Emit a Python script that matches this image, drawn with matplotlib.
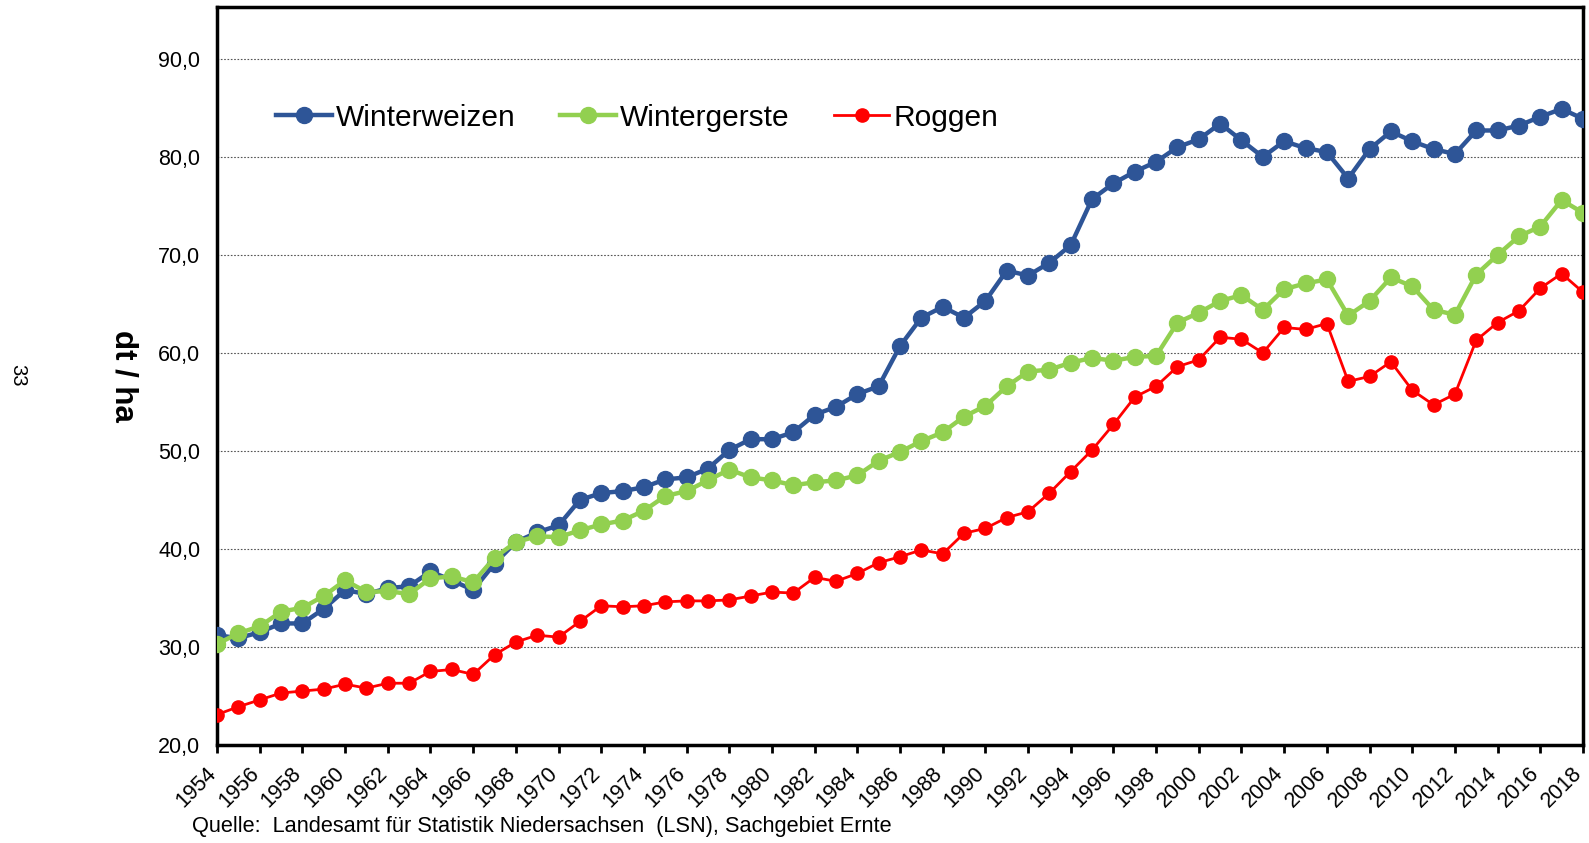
import matplotlib
matplotlib.use("Agg")
import matplotlib.pyplot as plt

plt.rcParams['font.family'] = ['Liberation Sans', 'DejaVu Sans']

years = list(range(1954, 2019))

# Ertrag dt/ha
winterweizen = [31.2, 30.9, 31.5, 32.4, 32.4, 33.9, 35.8, 35.4, 36.0, 36.2,
                37.7, 36.8, 35.8, 38.5, 40.7, 41.7, 42.4, 45.0, 45.7, 45.9,
                46.3, 47.1, 47.3, 48.2, 50.1, 51.2, 51.2, 51.9, 53.7, 54.5,
                55.8, 56.6, 60.7, 63.6, 64.7, 63.6, 65.3, 68.4, 67.9, 69.2,
                71.0, 75.7, 77.3, 78.5, 79.5, 81.0, 81.8, 83.4, 81.7, 80.0,
                81.6, 80.9, 80.5, 77.8, 80.8, 82.6, 81.6, 80.8, 80.3, 82.7,
                82.7, 83.2, 84.1, 84.9, 83.9]
wintergerste = [30.3, 31.4, 32.1, 33.6, 34.0, 35.2, 36.8, 35.6, 35.7, 35.4,
                37.0, 37.2, 36.6, 39.1, 40.7, 41.3, 41.2, 41.9, 42.5, 42.9,
                43.9, 45.4, 45.9, 47.0, 48.1, 47.3, 47.0, 46.5, 46.8, 47.0,
                47.5, 49.0, 49.9, 51.0, 51.9, 53.5, 54.6, 56.6, 58.1, 58.3,
                59.0, 59.5, 59.2, 59.6, 59.7, 63.1, 64.1, 65.3, 65.9, 64.4,
                66.5, 67.1, 67.5, 63.8, 65.3, 67.7, 66.8, 64.4, 63.9, 68.0,
                70.0, 71.9, 72.9, 75.6, 74.3]
roggen = [23.1, 23.9, 24.6, 25.3, 25.5, 25.7, 26.2, 25.8, 26.3, 26.3,
          27.5, 27.7, 27.2, 29.2, 30.5, 31.2, 31.0, 32.6, 34.2, 34.1,
          34.2, 34.6, 34.7, 34.7, 34.8, 35.2, 35.6, 35.5, 37.1, 36.7,
          37.5, 38.6, 39.2, 39.9, 39.5, 41.6, 42.1, 43.2, 43.8, 45.7,
          47.9, 50.1, 52.7, 55.5, 56.6, 58.6, 59.3, 61.6, 61.4, 60.0,
          62.6, 62.4, 63.0, 57.1, 57.6, 59.1, 56.2, 54.7, 55.8, 61.3,
          63.1, 64.3, 66.6, 68.1, 66.2]

xticks = list(range(1954, 2019, 2))
yticks = [20, 30, 40, 50, 60, 70, 80, 90]

fig = plt.figure(figsize=(15.89, 8.43), dpi=100)
ax = fig.add_axes([0.1366, 0.1163, 0.8596, 0.8754])

ax.plot(years, winterweizen, color='#2E5597', lw=3.2, marker='o', ms=11.5,
        label='Winterweizen', zorder=3)
ax.plot(years, wintergerste, color='#92D050', lw=3.2, marker='o', ms=11.5,
        label='Wintergerste', zorder=4)
ax.plot(years, roggen, color='#FF0000', lw=2, marker='o', ms=9.5,
        label='Roggen', zorder=5)

ax.set_xlim(1954, 2018)
ax.set_ylim(20, 95.3)
ax.set_xticks(xticks)
ax.set_xticklabels([str(y) for y in xticks], rotation=45, ha='right',
                   va='baseline', rotation_mode='anchor', fontsize=15.5)
ax.set_yticks(yticks)
ax.set_yticklabels([f"{v:.1f}".replace('.', ',') for v in yticks], fontsize=15.5)
ax.tick_params(axis='x', direction='out', length=6, width=2, pad=15)
ax.tick_params(axis='y', length=0, pad=12)

for v in yticks[1:]:
    ax.axhline(v, color='#555555', lw=0.8, ls=(0, (1.5, 1.5)), zorder=1)

for s in ax.spines.values():
    s.set_linewidth(2.5)
    s.set_color('black')

ax.legend(loc='center left', bbox_to_anchor=(0.043, 0.850), ncol=3, frameon=False,
          fontsize=21.5, handlelength=1.87, columnspacing=1.47, handletextpad=0.15,
          borderpad=0, borderaxespad=0)

fig.text(0.078, 0.554, 'dt / ha', rotation=-90, fontsize=22.5, fontweight='bold',
         ha='center', va='center')
fig.text(0.011, 0.555, '33', rotation=-90, fontsize=14.5, ha='center', va='center')
fig.text(0.121, 0.020, 'Quelle:  Landesamt für Statistik Niedersachsen  (LSN), Sachgebiet Ernte',
         fontsize=15.7, ha='left', va='center')

fig.savefig('out.png', dpi=100)
